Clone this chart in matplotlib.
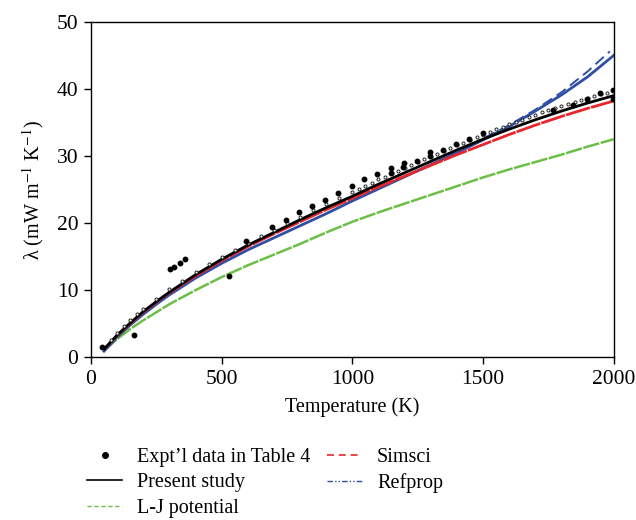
import matplotlib
matplotlib.use("Agg")
import matplotlib.pyplot as plt
from matplotlib.lines import Line2D

plt.rcParams['font.family'] = ['Liberation Serif', 'DejaVu Serif']
plt.rcParams['mathtext.fontset'] = 'stix'
plt.rcParams['lines.scale_dashes'] = False

# ---- data ----
T_curve = [50, 100, 150, 200, 250, 300, 400, 500, 600, 700, 800, 900,
           1000, 1100, 1200, 1300, 1400, 1500, 1600, 1700, 1800, 1900, 2000]
present = [1.2, 3.3, 5.1, 6.8, 8.3, 9.7, 12.3, 14.6, 16.7, 18.6, 20.5, 22.3,
           24.0, 25.8, 27.5, 29.2, 30.9, 32.5, 34.0, 35.4, 36.7, 37.9, 39.0]
simsci = [1.2, 3.2, 5.0, 6.7, 8.2, 9.6, 12.1, 14.4, 16.5, 18.4, 20.2, 22.0,
          23.7, 25.4, 27.0, 28.6, 30.2, 31.7, 33.2, 34.6, 35.9, 37.1, 38.2]
refprop = [0.9, 3.0, 4.8, 6.4, 7.9, 9.3, 11.8, 14.0, 16.0, 17.8, 19.6, 21.4,
           23.3, 25.1, 26.9, 28.7, 30.5, 32.4, 34.4, 36.7, 39.1, 41.8, 45.0]
lj = [1.0, 2.7, 4.2, 5.5, 6.7, 7.9, 10.0, 11.95, 13.7, 15.3, 16.9, 18.6,
      20.2, 21.6, 22.9, 24.2, 25.5, 26.8, 28.0, 29.1, 30.2, 31.4, 32.5]

T_refprop2 = [1450, 1500, 1600, 1700, 1800, 1900, 1985]
refprop2 = [31.6, 32.6, 34.6, 36.9, 39.5, 42.6, 45.6]

T_expt = [43, 165, 303, 318, 339, 360, 527, 595, 693, 746, 795, 846, 896, 946, 997,
          1045, 1096, 1146, 1196, 1247, 1297, 1347, 1397, 1447, 1498,
          1768, 1845, 1896, 1947, 1997, 1997, 1194, 1297, 1146]
expt = [1.5, 3.3, 13.1, 13.5, 14.1, 14.7, 12.1, 17.4, 19.4, 20.4, 21.6, 22.6, 23.5, 24.5, 25.5,
        26.5, 27.3, 28.2, 29.0, 29.2, 30.6, 30.9, 31.8, 32.6, 33.5,
        36.8, 37.6, 38.5, 39.4, 39.9, 38.5, 28.3, 30.0, 27.5]

T_dense = [75, 100, 125, 150, 175, 200, 250, 300, 350, 400, 450, 500, 550, 600, 650,
           700, 750, 800, 850, 900, 950,
           1000, 1025, 1050, 1075, 1100, 1125, 1150, 1175, 1200, 1225, 1250, 1275, 1300,
           1325, 1350, 1375, 1400, 1425, 1450, 1475, 1500, 1525, 1550, 1575, 1600, 1625,
           1650, 1675, 1700, 1725, 1750, 1775, 1800, 1825, 1850, 1875, 1900, 1925, 1950,
           1975, 2000]
dense = [2.5, 3.6, 4.6, 5.5, 6.4, 7.2, 8.7, 10.1, 11.4, 12.7, 13.9, 15.0, 16.0, 17.0, 18.0,
         19.0, 20.0, 20.9, 21.9, 22.8, 23.8,
         24.7, 25.1, 25.6, 26.0, 26.5, 26.9, 27.4, 27.8, 28.2, 28.6, 29.1, 29.5, 29.9,
         30.3, 30.8, 31.2, 31.6, 32.0, 32.4, 32.8, 33.2, 33.6, 34.0, 34.3, 34.7, 35.1,
         35.4, 35.8, 36.1, 36.5, 36.8, 37.2, 37.5, 37.8, 38.1, 38.3, 38.6, 38.9, 39.2,
         39.4, 39.7]

xticks = [0, 500, 1000, 1500, 2000]
yticks = [0, 10, 20, 30, 40, 50]

RED = '#e8262b'
BLUE = '#2e4fa3'
GREEN = '#6bbf45'

fig = plt.figure(figsize=(6.36, 5.20), dpi=100)
ax = fig.add_axes([0.143, 0.313, 0.822, 0.645])

ax.plot(T_curve, lj, color=GREEN, lw=1.8, dashes=(12, 1.0))
ax.plot(T_curve, refprop, color=BLUE, lw=2.0)
ax.plot(T_refprop2, refprop2, color=BLUE, lw=1.4, dashes=(8, 4))
ax.plot(T_curve, simsci, color=RED, lw=2.0, dashes=(18, 0.8))
ax.plot(T_curve, present, color='black', lw=2.0)
ax.plot(T_dense, dense, ls='none', marker='o', ms=2.2, mfc='white', mec='#222222', mew=0.7)
ax.plot(T_expt, expt, ls='none', marker='o', ms=3.2, color='black')

ax.set_xlim(0, 2000)
ax.set_ylim(0, 50)
ax.set_xticks(xticks)
ax.set_yticks(yticks)
ax.tick_params(direction='out', length=5, width=1, labelsize=15.5, pad=4)
for s in ax.spines.values():
    s.set_linewidth(1.0)
ax.set_xlabel('Temperature (K)', fontsize=14.5, labelpad=6)
ax.set_ylabel(r'λ (mW m$^{-1}$ K$^{-1}$)', fontsize=14.5, labelpad=8)

handles = [
    Line2D([], [], ls='none', marker='o', ms=4, color='black'),
    Line2D([], [], color='black', lw=1.2),
    Line2D([], [], color=GREEN, lw=1.0, dashes=(3, 2)),
    Line2D([], [], color=RED, lw=1.2, dashes=(5, 3.5)),
    Line2D([], [], color=BLUE, lw=1.0, dashes=(4, 1.5, 1, 1.5, 1, 1.5)),
]
labels = ["Expt’l data in Table 4", 'Present study', 'L-J potential', 'Simsci', 'Refprop']
fig.legend(handles, labels, ncol=2, loc='upper left', bbox_to_anchor=(0.124, 0.155),
           frameon=False, fontsize=14.5, handlelength=1.75, handletextpad=0.75,
           columnspacing=0.8, labelspacing=0.32, borderaxespad=0)

fig.savefig('out.png', dpi=100)
